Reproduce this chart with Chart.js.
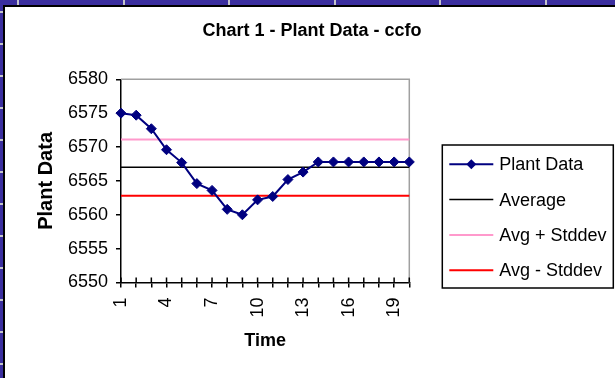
<!DOCTYPE html>
<html>
<head>
<meta charset="utf-8">
<script src="https://cdn.jsdelivr.net/npm/chart.js@4.4.1/dist/chart.umd.min.js"></script>
<style>
  html, body { margin: 0; padding: 0; }
  body { width: 615px; height: 378px; overflow: hidden; background: #3B2F9F; position: relative; }
  #frame { position: absolute; left: 3px; top: 5px; right: 0; bottom: 0; background: #fff;
           border-left: 2px solid #000; border-top: 2px solid #000; }
  #wrap { position: absolute; left: 5px; top: 7px; width: 610px; height: 371px; }
  .mark { position: absolute; background: #C4C4CC; }
</style>
</head>
<body>
<div id="frame"></div>
<div id="wrap"><canvas id="chart"></canvas></div>
<script>
// Time axis categories and the labels shown under it
const timeLabels = ['1','2','3','4','5','6','7','8','9','10','11','12','13','14','15','16','17','18','19','20'];
const xTickLabels = ['1','4','7','10','13','16','19'];

// Measured plant values
const plantData = [6575.0, 6574.7, 6572.7, 6569.6, 6567.7, 6564.6, 6563.6, 6560.8, 6560.0, 6562.2,
                   6562.7, 6565.2, 6566.3, 6567.8, 6567.8, 6567.8, 6567.8, 6567.8, 6567.8, 6567.8];

// Reference lines: mean and mean +/- one standard deviation
const averageLine = [6567.0, 6567.0, 6567.0, 6567.0, 6567.0, 6567.0, 6567.0, 6567.0, 6567.0, 6567.0,
                     6567.0, 6567.0, 6567.0, 6567.0, 6567.0, 6567.0, 6567.0, 6567.0, 6567.0, 6567.0];
const upperLine = [6571.1, 6571.1, 6571.1, 6571.1, 6571.1, 6571.1, 6571.1, 6571.1, 6571.1, 6571.1,
                   6571.1, 6571.1, 6571.1, 6571.1, 6571.1, 6571.1, 6571.1, 6571.1, 6571.1, 6571.1];
const lowerLine = [6562.8, 6562.8, 6562.8, 6562.8, 6562.8, 6562.8, 6562.8, 6562.8, 6562.8, 6562.8,
                   6562.8, 6562.8, 6562.8, 6562.8, 6562.8, 6562.8, 6562.8, 6562.8, 6562.8, 6562.8];

// Value axis range
const yMin = 6550, yMax = 6580, yStep = 5;

const chartTitle = 'Chart 1 - Plant Data - ccfo';

// Sheet grid marks peeking around the chart object
(function () {
  for (let k = 0; k < 6; k++) {
    const d = document.createElement('div');
    d.className = 'mark';
    d.style.cssText = 'left:' + (17 + 105.6 * k).toFixed(1) + 'px;top:0;width:2px;height:5px;';
    document.body.appendChild(d);
  }
  for (let k = 0; k < 12; k++) {
    const d = document.createElement('div');
    d.className = 'mark';
    d.style.cssText = 'left:0;top:' + (11 + 32 * k) + 'px;width:3px;height:2px;';
    document.body.appendChild(d);
  }
})();

const FONT = '"Liberation Sans", Arial, sans-serif';

// Chart title centred across the whole chart object
const chartHeading = {
  id: 'chartHeading',
  afterDraw(chart) {
    const { ctx } = chart;
    ctx.save();
    ctx.fillStyle = '#000';
    ctx.font = 'bold 18px ' + FONT;
    ctx.textAlign = 'center';
    ctx.textBaseline = 'middle';
    ctx.fillText(chartTitle, chart.width / 2 + 2, 24.5);
    ctx.restore();
  }
};

// Gray border on the top and right of the plot area
const plotFrame = {
  id: 'plotFrame',
  beforeDatasetsDraw(chart) {
    const { ctx, chartArea: a } = chart;
    ctx.save();
    ctx.strokeStyle = '#A0A0A0';
    ctx.lineWidth = 1.5;
    ctx.beginPath();
    ctx.moveTo(a.left, a.top);
    ctx.lineTo(a.right, a.top);
    ctx.lineTo(a.right, a.bottom);
    ctx.stroke();
    ctx.restore();
  }
};

// Inner half of the crossing tick marks on the time axis
const crossTicks = {
  id: 'crossTicks',
  afterDraw(chart) {
    const { ctx, chartArea: a } = chart;
    const xs = chart.scales.x;
    ctx.save();
    ctx.strokeStyle = '#000';
    ctx.lineWidth = 1.5;
    ctx.beginPath();
    xs.ticks.forEach((t, i) => {
      const x = xs.getPixelForTick(i);
      ctx.moveTo(x, a.bottom - 5);
      ctx.lineTo(x, a.bottom);
    });
    ctx.stroke();
    ctx.restore();
  }
};

// Boxed legend to the right of the plot
const boxLegend = {
  id: 'boxLegend',
  afterDraw(chart) {
    const { ctx, chartArea: a } = chart;
    const left = a.right + 33, top = 138, w = 171, h = 143;
    ctx.save();
    ctx.strokeStyle = '#000';
    ctx.lineWidth = 1.5;
    ctx.strokeRect(left, top, w, h);
    chart.data.datasets.forEach((ds, i) => {
      const y = top + 19.3 + i * 35.3;
      ctx.beginPath();
      ctx.strokeStyle = ds.borderColor;
      ctx.lineWidth = ds.borderWidth;
      ctx.moveTo(left + 7, y);
      ctx.lineTo(left + 51, y);
      ctx.stroke();
      if (ds.pointRadius > 0) {
        const cx = left + 29, r = ds.pointRadius;
        ctx.beginPath();
        ctx.moveTo(cx, y - r);
        ctx.lineTo(cx + r, y);
        ctx.lineTo(cx, y + r);
        ctx.lineTo(cx - r, y);
        ctx.closePath();
        ctx.fillStyle = ds.pointBackgroundColor;
        ctx.fill();
      }
      ctx.fillStyle = '#000';
      ctx.font = '18px ' + FONT;
      ctx.textBaseline = 'middle';
      ctx.textAlign = 'left';
      ctx.fillText(ds.label, left + 57, y + 1);
    });
    ctx.restore();
  }
};

new Chart(document.getElementById('chart'), {
  type: 'line',
  data: {
    labels: timeLabels,
    datasets: [
      { label: 'Plant Data', data: plantData, borderColor: '#000080', borderWidth: 2,
        pointStyle: 'rectRot', pointRadius: 5, pointBorderWidth: 1,
        pointBackgroundColor: '#000080', pointBorderColor: '#000080', tension: 0 },
      { label: 'Average', data: averageLine, borderColor: '#000000', borderWidth: 1.5, pointRadius: 0 },
      { label: 'Avg + Stddev', data: upperLine, borderColor: '#FF99CC', borderWidth: 2, pointRadius: 0 },
      { label: 'Avg - Stddev', data: lowerLine, borderColor: '#FF0000', borderWidth: 2, pointRadius: 0 }
    ]
  },
  options: {
    responsive: true,
    maintainAspectRatio: false,
    animation: false,
    events: [],
    layout: { padding: { left: 0, right: 205.7, top: 72.3, bottom: 0 } },
    plugins: {
      legend: { display: false },
      tooltip: { enabled: false },
      title: { display: false }
    },
    scales: {
      x: {
        type: 'category',
        offset: false,
        grid: { display: true, drawOnChartArea: false, drawTicks: true, tickLength: 5, color: '#000', lineWidth: 1.5 },
        border: { display: true, color: '#000', width: 1.5 },
        ticks: {
          autoSkip: false, maxRotation: 90, minRotation: 90, padding: 10, color: '#000',
          font: { family: FONT, size: 18 },
          callback(value) {
            const lab = this.getLabelForValue(value);
            return xTickLabels.includes(lab) ? lab : '';
          }
        },
        title: { display: true, text: 'Time', color: '#000',
                 font: { family: FONT, size: 18, weight: 'bold', lineHeight: 1.2 },
                 padding: { top: 0, bottom: 26 } },
        afterFit(s) { s.height = 95.5; }
      },
      y: {
        min: yMin, max: yMax,
        grid: { display: true, drawOnChartArea: false, drawTicks: true, tickLength: 5, color: '#000', lineWidth: 1.5 },
        border: { display: true, color: '#000', width: 1.5 },
        ticks: { stepSize: yStep, padding: 8, color: '#000', font: { family: FONT, size: 18 },
                 callback: (value) => String(value) },
        title: { display: true, text: 'Plant Data', color: '#000',
                 font: { family: FONT, size: 20, weight: 'bold', lineHeight: 1.2 },
                 padding: { top: 29.3, bottom: 0 } },
        afterFit(s) { s.width = 116; }
      }
    }
  },
  plugins: [chartHeading, plotFrame, crossTicks, boxLegend]
});
</script>
</body>
</html>
